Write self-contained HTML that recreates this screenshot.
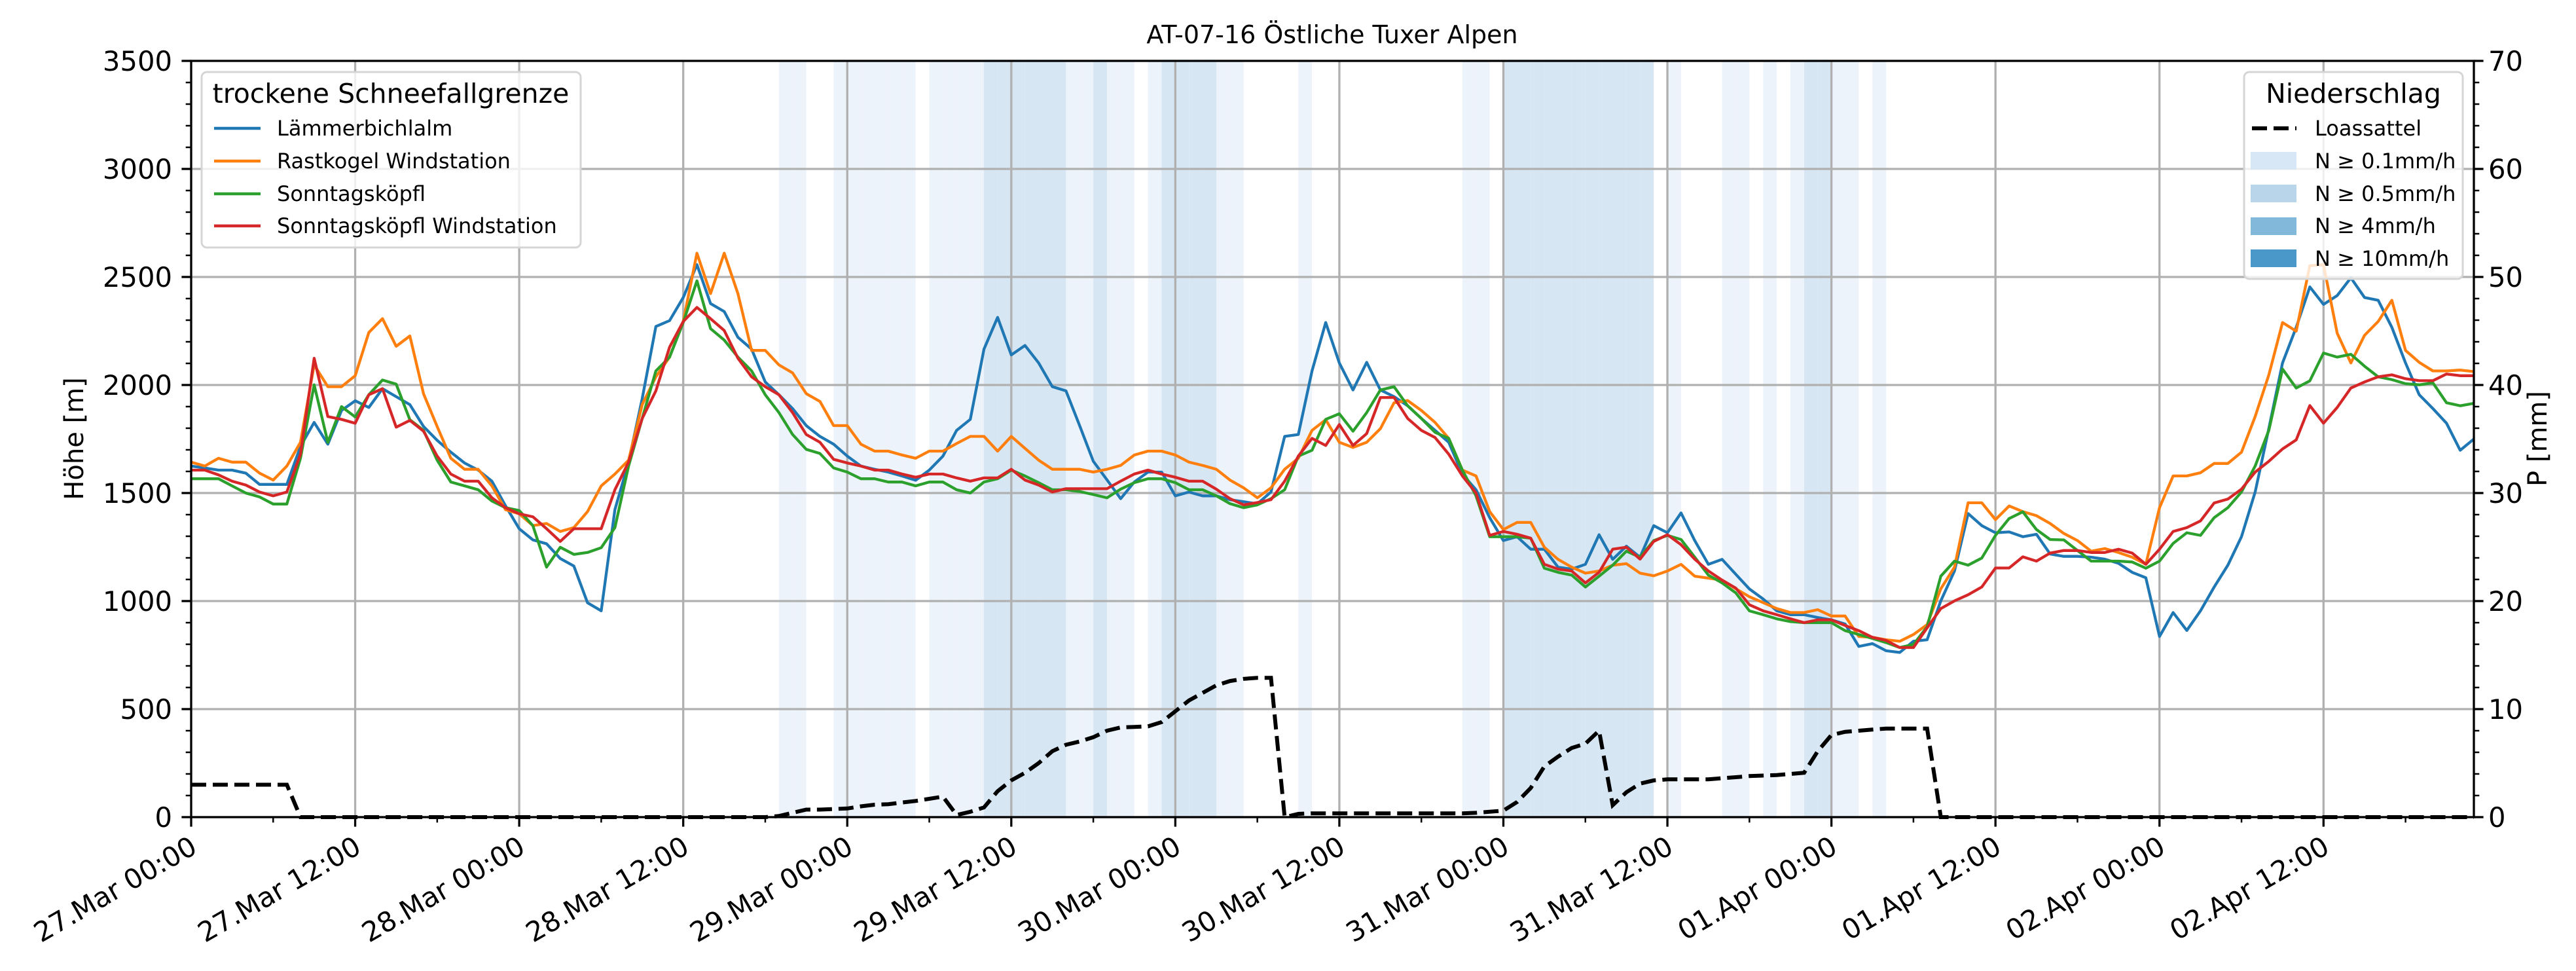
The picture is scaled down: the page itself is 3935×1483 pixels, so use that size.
<!DOCTYPE html>
<html><head><meta charset="utf-8">
<style>
html,body{margin:0;padding:0;background:#fff;}
svg{display:block;font-family:"DejaVu Sans","Liberation Sans",sans-serif;}
</style></head>
<body>
<svg id="chart" xmlns="http://www.w3.org/2000/svg" width="3935" height="1483" viewBox="0 0 3935 1483">
<rect x="0" y="0" width="3935" height="1483" fill="#fff"/>
<g id="bands"></g>
<g id="grid"></g>
<g id="series"></g>
<g id="axes"></g>
<text x="2035" y="66" font-size="38" text-anchor="middle">AT-07-16 Östliche Tuxer Alpen</text>
<text transform="translate(127,670) rotate(-90)" font-size="40" text-anchor="middle">Höhe [m]</text>
<text transform="translate(3890,670) rotate(-90)" font-size="40" text-anchor="middle">P [mm]</text>

<g>
<rect x="308" y="110" width="579" height="268" rx="8" fill="#fff" fill-opacity="0.8" stroke="#d5d5d5" stroke-width="3"/>
<text x="597" y="157" font-size="41" text-anchor="middle">trockene Schneefallgrenze</text>
<g><line x1="327" y1="196" x2="398" y2="196" stroke="#1f77b4" stroke-width="4.5"/><text x="423" y="207" font-size="32">Lämmerbichlalm</text></g>
<g><line x1="327" y1="246" x2="398" y2="246" stroke="#ff7f0e" stroke-width="4.5"/><text x="423" y="257" font-size="32">Rastkogel Windstation</text></g>
<g><line x1="327" y1="296" x2="398" y2="296" stroke="#2ca02c" stroke-width="4.5"/><text x="423" y="307" font-size="32">Sonntagsköpfl</text></g>
<g><line x1="327" y1="345" x2="398" y2="345" stroke="#d62728" stroke-width="4.5"/><text x="423" y="356" font-size="32">Sonntagsköpfl Windstation</text></g>
</g>

<g>
<rect x="3428" y="110" width="334" height="316" rx="8" fill="#fff" fill-opacity="0.8" stroke="#d5d5d5" stroke-width="3"/>
<text x="3595" y="157" font-size="41" text-anchor="middle">Niederschlag</text>
<g><line x1="3440" y1="196" x2="3508" y2="196" stroke="#000" stroke-width="6" stroke-dasharray="23,10"/><text x="3536" y="207" font-size="32">Loassattel</text></g>
<g><rect x="3438" y="232" width="70" height="27" fill="#d8e7f5"/><text x="3536" y="257" font-size="32">N ≥ 0.1mm/h</text></g>
<g><rect x="3438" y="282" width="70" height="27" fill="#b9d5ea"/><text x="3536" y="307" font-size="32">N ≥ 0.5mm/h</text></g>
<g><rect x="3438" y="332" width="70" height="27" fill="#82b8d9"/><text x="3536" y="356" font-size="32">N ≥ 4mm/h</text></g>
<g><rect x="3438" y="381" width="70" height="27" fill="#4a98c9"/><text x="3536" y="406" font-size="32">N ≥ 10mm/h</text></g>
</g>
</svg>
<script>
const tickLabels = ["27.Mar 00:00","27.Mar 12:00","28.Mar 00:00","28.Mar 12:00","29.Mar 00:00","29.Mar 12:00","30.Mar 00:00","30.Mar 12:00","31.Mar 00:00","31.Mar 12:00","01.Apr 00:00","01.Apr 12:00","02.Apr 00:00","02.Apr 12:00"];
const yTicks = [0,500,1000,1500,2000,2500,3000,3500];
const y2Ticks = [0,10,20,30,40,50,60,70];
const seriesNames = ["Lämmerbichlalm","Rastkogel Windstation","Sonntagsköpfl","Sonntagsköpfl Windstation"];
const blue = [1625,1616,1606,1606,1592,1540,1540,1540,1716,1827,
1726,1882,1927,1896,1983,1946,1909,1808,1744,1689,
1639,1606,1555,1441,1335,1283,1265,1197,1162,992,
955,1423,1643,1937,2271,2298,2405,2557,2377,2340,
2221,2166,2014,1955,1891,1812,1762,1726,1671,1625,
1610,1597,1579,1559,1606,1671,1790,1841,2166,2313,
2139,2183,2102,1992,1973,1812,1647,1561,1474,1551,
1597,1597,1487,1505,1487,1487,1469,1460,1450,1505,
1762,1771,2065,2289,2102,1977,2105,1977,1946,1904,
1845,1790,1735,1588,1515,1386,1280,1298,1240,1240,
1157,1148,1170,1307,1193,1254,1203,1349,1316,1408,
1280,1170,1193,1124,1056,1010,955,937,937,924,
913,894,790,803,770,762,814,821,1001,1139,
1405,1349,1316,1320,1298,1309,1218,1207,1207,1203,
1194,1175,1133,1108,836,947,864,955,1065,1166,
1298,1505,1799,2102,2267,2454,2373,2414,2496,2405,
2392,2267,2102,1955,1891,1823,1698,1750];
const orange = [1643,1625,1661,1643,1643,1592,1560,1625,1735,2093,
1992,1992,2043,2243,2307,2179,2227,1959,1808,1661,
1610,1610,1533,1423,1404,1349,1359,1322,1340,1414,
1533,1588,1652,1909,2038,2129,2294,2610,2423,2610,
2423,2160,2160,2093,2056,1960,1924,1812,1812,1726,
1694,1694,1676,1661,1694,1694,1729,1762,1762,1694,
1762,1707,1652,1610,1610,1610,1597,1610,1628,1676,
1694,1694,1676,1643,1628,1610,1560,1524,1478,1524,
1610,1661,1790,1839,1735,1711,1735,1798,1918,1928,
1882,1827,1753,1606,1579,1414,1331,1364,1364,1249,
1193,1157,1129,1139,1166,1173,1129,1117,1139,1170,
1115,1106,1097,1057,1020,993,965,947,947,960,
931,931,836,832,821,814,845,891,1057,1157,
1455,1455,1377,1440,1414,1395,1359,1313,1280,1231,
1243,1225,1203,1170,1432,1579,1579,1594,1637,1637,
1689,1854,2047,2289,2249,2552,2557,2240,2102,2230,
2294,2392,2160,2105,2065,2065,2069,2062];
const green = [1566,1566,1566,1533,1500,1482,1449,1449,1661,2001,
1735,1900,1852,1955,2023,2004,1839,1790,1652,1551,
1533,1515,1463,1432,1419,1349,1157,1249,1216,1225,
1247,1340,1625,1845,2065,2129,2289,2482,2261,2208,
2129,2065,1955,1872,1771,1702,1683,1616,1597,1566,
1566,1551,1551,1533,1551,1551,1515,1500,1551,1566,
1606,1579,1548,1515,1515,1507,1493,1478,1518,1548,
1566,1566,1548,1515,1515,1487,1451,1432,1445,1474,
1515,1671,1698,1841,1867,1786,1872,1977,1992,1904,
1845,1781,1753,1606,1487,1298,1298,1298,1291,1152,
1133,1120,1065,1115,1166,1231,1203,1280,1304,1285,
1203,1120,1084,1038,955,937,918,905,900,900,
900,863,845,827,808,785,799,881,1115,1185,
1166,1199,1304,1382,1413,1331,1285,1283,1234,1185,
1185,1185,1181,1152,1185,1267,1316,1304,1386,1432,
1505,1625,1790,2074,1986,2019,2148,2129,2142,2087,
2038,2025,2006,2001,2010,1918,1904,1915];
const red = [1606,1606,1584,1555,1537,1505,1487,1505,1680,2124,
1854,1841,1823,1955,1983,1805,1836,1786,1671,1588,
1555,1555,1478,1432,1404,1390,1335,1276,1335,1335,
1335,1515,1643,1845,1973,2175,2294,2359,2307,2252,
2124,2038,1992,1955,1872,1771,1735,1656,1639,1625,
1606,1606,1588,1573,1588,1588,1570,1555,1570,1570,
1610,1560,1537,1505,1520,1520,1520,1520,1555,1588,
1606,1588,1573,1555,1555,1518,1474,1445,1456,1469,
1555,1671,1753,1720,1817,1720,1775,1942,1942,1845,
1790,1757,1680,1579,1500,1304,1322,1309,1291,1170,
1148,1139,1084,1133,1240,1249,1194,1276,1307,1261,
1194,1139,1097,1060,983,955,937,918,900,913,
913,887,863,832,818,785,785,876,965,1001,
1029,1065,1153,1153,1205,1185,1222,1234,1234,1225,
1225,1240,1222,1170,1240,1322,1340,1371,1454,1472,
1518,1597,1647,1704,1746,1905,1823,1896,1986,2014,
2038,2047,2029,2020,2020,2051,2043,2043];
const precip = [3,3,3,3,3,3,3,3,
0,0,0,0,0,0,0,0,0,0,0,0,0,0,0,0,0,0,0,0,0,0,0,0,0,0,0,0,0,0,0,0,0,0,
0,0.1,0.4,0.7,0.7,0.75,0.8,1.0,1.15,1.2,1.35,1.5,1.7,1.9,
0.2,0.5,0.9,2.4,3.4,4.1,5.0,6.1,6.7,7.0,7.4,8.0,8.3,8.35,8.4,8.8,9.8,10.8,11.5,12.2,12.6,12.8,12.9,12.9,
0,0.3,0.35,0.35,0.35,0.35,0.35,0.35,0.35,0.35,0.35,0.35,0.35,0.35,
0.4,0.5,0.6,1.4,2.7,4.7,5.6,6.4,6.8,8.0,
1.1,2.3,3.1,3.4,3.5,3.5,3.5,3.5,3.6,3.7,3.8,3.85,3.9,4.0,4.1,6.1,7.6,7.9,8.0,8.1,8.2,8.2,8.2,8.2,
0,0,0,0,0,0,0,0,0,0,0,0,0,0,0,0,0,0,0,0,0,0,0,0,0,0,0,0,0,0,0,0,0,0,0,0,0,0,0,0];
const rainHours1 = [43,44,47,48,49,50,51,52,54,55,56,57,64,65,67,68,70,75,76,81,93,94,108,112,113,115,117,120,121,123];
const rainHours2 = [58,59,60,61,62,63,66,71,72,73,74,96,97,98,99,100,101,102,103,104,105,106,118,119];

const NS="http://www.w3.org/2000/svg";
const X0=292,X1=3779,Y0=93,Y1=1248,HMAX=167;
function xs(h){return X0+h*(X1-X0)/HMAX;}
function ys(v){return Y1-v*(Y1-Y0)/3500;}
function ys2(p){return Y1-p*(Y1-Y0)/70;}
function mk(tag,attrs,parent){const e=document.createElementNS(NS,tag);for(const k in attrs)e.setAttribute(k,attrs[k]);parent.appendChild(e);return e;}

const bands=document.getElementById('bands');
rainHours1.forEach(h=>{
  const r=mk('rect',{x:xs(h),y:Y0,width:xs(h+1)-xs(h),height:Y1-Y0,fill:'#edf3fa'},bands);
  
  
});
rainHours2.forEach(h=>{
  const r=mk('rect',{x:xs(h),y:Y0,width:xs(h+1)-xs(h),height:Y1-Y0,fill:'#d7e6f3'},bands);
  
  
});

const grid=document.getElementById('grid');
const axes=document.getElementById('axes');
tickLabels.forEach((lab,i)=>{
  const x=xs(i*12);
  if(i>0){const g=mk('line',{x1:x,y1:Y0,x2:x,y2:Y1,stroke:'#b0b0b0','stroke-width':3.3},grid);
  
  }
  mk('line',{x1:x,y1:Y1,x2:x,y2:Y1+14.6,stroke:'#000','stroke-width':3.3},axes);
  const t=mk('text',{transform:`translate(${x-4},${Y1+26}) rotate(-30)`,'text-anchor':'end','font-size':41.7,dy:'0.75em'},axes);
  t.textContent=lab;
  
  
});
for(let h=6;h<HMAX;h+=12){mk('line',{x1:xs(h),y1:Y1,x2:xs(h),y2:Y1+8.3,stroke:'#000','stroke-width':2.5},axes);}
yTicks.forEach(v=>{
  const y=ys(v);
  if(v>0&&v<3500){const g=mk('line',{x1:X0,y1:y,x2:X1,y2:y,stroke:'#b0b0b0','stroke-width':3.3},grid);
  
  }
  mk('line',{x1:X0-14.6,y1:y,x2:X0,y2:y,stroke:'#000','stroke-width':3.3},axes);
  const t=mk('text',{x:X0-29,y:y+15,'text-anchor':'end','font-size':41.7},axes);
  t.textContent=v;
  
  
});
for(let v=100;v<3500;v+=100){if(v%500)mk('line',{x1:X0-8.3,y1:ys(v),x2:X0,y2:ys(v),stroke:'#000','stroke-width':2.5},axes);}
y2Ticks.forEach(p=>{
  const y=ys2(p);
  mk('line',{x1:X1,y1:y,x2:X1+14.6,y2:y,stroke:'#000','stroke-width':3.3},axes);
  const t=mk('text',{x:X1+22,y:y+15,'text-anchor':'start','font-size':41.7},axes);
  t.textContent=p;
  
  
});
for(let p=2;p<70;p+=2){if(p%10)mk('line',{x1:X1,y1:ys2(p),x2:X1+8.3,y2:ys2(p),stroke:'#000','stroke-width':2.5},axes);}
mk('rect',{x:X0,y:Y0,width:X1-X0,height:Y1-Y0,fill:'none',stroke:'#000','stroke-width':3.3},axes);

const series=document.getElementById('series');
const allSeries=[blue,orange,green,red];
const colors=['#1f77b4','#ff7f0e','#2ca02c','#d62728'];
const lineNames=['line-laemmerbichlalm','line-rastkogel','line-sonntagskoepfl','line-sonntagskoepfl-wind'];
allSeries.forEach((arr,k)=>{
  const pts=arr.map((v,i)=>xs(i).toFixed(1)+','+ys(v).toFixed(1)).join(' ');
  const pl=mk('polyline',{points:pts,fill:'none',stroke:colors[k],'stroke-width':4.3,'stroke-linejoin':'round'},series);
  
  
});
const ppts=precip.map((p,i)=>xs(i).toFixed(1)+','+ys2(p).toFixed(1)).join(' ');
const pl=mk('polyline',{points:ppts,fill:'none',stroke:'#000','stroke-width':6,'stroke-dasharray':'23,10'},series);


</script>
</body></html>
